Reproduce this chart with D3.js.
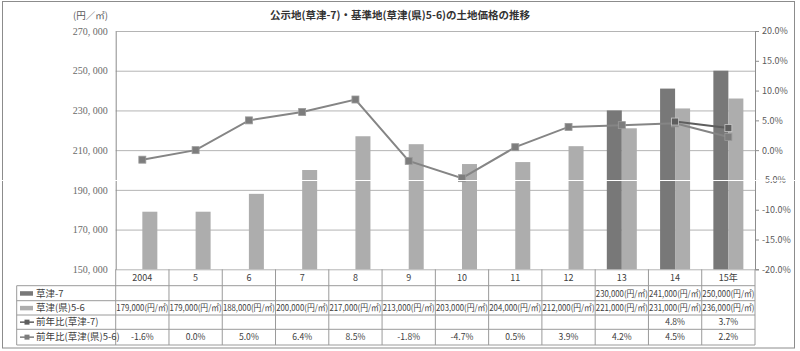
<!DOCTYPE html>
<html><head><meta charset="utf-8">
<script src="https://cdn.jsdelivr.net/npm/d3@7"></script>
<style>body{margin:0;background:#fff}svg{display:block}</style>
</head><body><svg id="c" width="800" height="351"></svg>
<script>
const categories = ["2004","5","6","7","8","9","10","11","12","13","14","15年"];
const kusatsu7 = [null,null,null,null,null,null,null,null,null,230000,241000,250000];
const kusatsuKen = [179000,179000,188000,200000,217000,213000,203000,204000,212000,221000,231000,236000];
const yoyKusatsu7 = [null,null,null,null,null,null,null,null,null,null,4.8,3.7];
const yoyKen = [-1.6,0.0,5.0,6.4,8.5,-1.8,-4.7,0.5,3.9,4.2,4.5,2.2];
const leftTicks = [150000,170000,190000,210000,230000,250000,270000];
const rightTicks = [-20,-15,-10,-5,0,5,10,15,20];
const seriesNames = ["草津-7","草津(県)5-6","前年比(草津-7)","前年比(草津(県)5-6)"];
const titleText = "公示地(草津-7)・基準地(草津(県)5-6)の土地価格の推移";
const unitText = "(円／㎡)";

const svg = d3.select("#c");
const L = 115.7, R = 755, T = 31, B = 269.3;
const rowY = [269.3, 285.7, 300.7, 315, 329.3, 345];
const tableLeft = 16.7;
const cDark = "#787878", cLight = "#adadad";
const gridC = "#b4b4b4", lineC = "#9a9a9a";
const jp = "'Noto Sans CJK JP','Noto Sans',sans-serif";

// outer border
svg.append("rect").attr("x",2.5).attr("y",1.5).attr("width",792).attr("height",346.5)
  .attr("fill","#fff").attr("stroke","#8c8c8c").attr("stroke-width",1);

const x = d3.scaleBand().domain(categories).range([L,R]).padding(0);
const yL = d3.scaleLinear().domain([150000,270000]).range([B,T]);
const yR = d3.scaleLinear().domain([-20,20]).range([B,T]);
const bw = 15;

// gridlines
svg.append("g").attr("transform",`translate(${L},0)`)
  .call(d3.axisLeft(yL).tickValues(leftTicks).tickSize(-(R-L)).tickFormat(""))
  .call(g=>{g.select(".domain").remove();g.selectAll("line").attr("stroke",gridC);});

// left axis labels
svg.append("g").attr("transform",`translate(${L},0)`)
  .call(d3.axisLeft(yL).tickValues(leftTicks).tickSize(0).tickPadding(8)
    .tickFormat(d=>d3.format(",")(d).replace(",",", ")))
  .call(g=>{g.select(".domain").attr("stroke","#8c8c8c");
    g.selectAll("text").attr("font-family","'Liberation Serif','DejaVu Serif',serif")
     .attr("font-size",10).attr("fill","#6a6a6a");});

// right axis
svg.append("g").attr("transform",`translate(${R},0)`)
  .call(d3.axisRight(yR).tickValues(rightTicks).tickSize(4).tickPadding(3)
    .tickFormat(d=>d.toFixed(1)+"%"))
  .call(g=>{g.select(".domain").attr("stroke","#8c8c8c");
    g.selectAll("line").attr("stroke","#8c8c8c");
    g.selectAll("text").attr("font-family",jp).attr("font-size",9).attr("fill","#595959");});

// bars
svg.append("g").selectAll("rect").data(categories.map((c,i)=>({c,v:kusatsu7[i]})).filter(d=>d.v!=null))
  .join("rect").attr("x",d=>x(d.c)+x.bandwidth()/2-bw).attr("width",bw)
  .attr("y",d=>yL(d.v)).attr("height",d=>B-yL(d.v)).attr("fill",cDark);
svg.append("g").selectAll("rect").data(categories.map((c,i)=>({c,v:kusatsuKen[i]})))
  .join("rect").attr("x",d=>x(d.c)+x.bandwidth()/2).attr("width",bw)
  .attr("y",d=>yL(d.v)).attr("height",d=>B-yL(d.v)).attr("fill",cLight);

// lines
function drawLine(vals,color,mcolor,stroke){
  const pts = categories.map((c,i)=>({c,v:vals[i]})).filter(d=>d.v!=null);
  const line = d3.line().x(d=>x(d.c)+x.bandwidth()/2).y(d=>yR(d.v));
  svg.append("path").datum(pts).attr("d",line).attr("fill","none").attr("stroke",color).attr("stroke-width",2);
  svg.append("g").selectAll("rect").data(pts).join("rect")
    .attr("x",d=>x(d.c)+x.bandwidth()/2-3.5).attr("y",d=>yR(d.v)-3.5)
    .attr("width",7).attr("height",7).attr("fill",mcolor).attr("stroke",stroke).attr("stroke-width",0.8);
}
drawLine(yoyKen,"#858585","#7d7d7d","#9a9a9a");
drawLine(yoyKusatsu7,"#5e5e5e","#5e5e5e","#c8c8c8");

// table
const tg = svg.append("g");
// vertical lines
const bounds = categories.map(c=>x(c)).concat([R]);
tg.selectAll("line.v").data(bounds).join("line")
  .attr("x1",d=>d).attr("x2",d=>d).attr("y1",rowY[0]).attr("y2",rowY[5])
  .attr("stroke",lineC);
tg.append("line").attr("x1",tableLeft).attr("x2",tableLeft).attr("y1",rowY[1]).attr("y2",rowY[5]).attr("stroke",lineC);
[1,2,3,4,5].forEach(k=>{
  tg.append("line").attr("x1",tableLeft).attr("x2",R).attr("y1",rowY[k]).attr("y2",rowY[k]).attr("stroke",lineC);
});
// category labels
tg.selectAll("text.cat").data(categories).join("text")
  .attr("x",d=>x(d)+x.bandwidth()/2).attr("y",(rowY[0]+rowY[1])/2+3.5)
  .attr("text-anchor","middle").attr("font-family",jp).attr("font-size",9).attr("fill","#404040").text(d=>d);
// rows
const rows = [
  kusatsu7.map(v=>v==null?"":d3.format(",")(v)+"(円/㎡)"),
  kusatsuKen.map(v=>v==null?"":d3.format(",")(v)+"(円/㎡)"),
  yoyKusatsu7.map(v=>v==null?"":v.toFixed(1)+"%"),
  yoyKen.map(v=>v==null?"":v.toFixed(1)+"%")
];
rows.forEach((r,k)=>{
  const cy = (rowY[k+1]+rowY[k+2])/2+3.3;
  tg.append("g").selectAll("text").data(categories.map((c,i)=>({c,t:r[i]})).filter(d=>d.t!==""))
    .join("text").attr("x",d=>x(d.c)+x.bandwidth()/2).attr("y",cy)
    .attr("text-anchor","middle").attr("font-family",jp).attr("font-size",k<2?8.6:8.6).attr("fill","#404040")
    .attr("textLength",k<2?52:null).attr("lengthAdjust","spacingAndGlyphs")
    .text(d=>d.t);
  // legend keys
  const ky = (rowY[k+1]+rowY[k+2])/2;
  if(k<2){
    tg.append("rect").attr("x",20).attr("y",ky-2).attr("width",13).attr("height",4.5).attr("fill",k==0?cDark:cLight);
  } else {
    const col = k==2?"#5e5e5e":"#7d7d7d";
    tg.append("line").attr("x1",20).attr("x2",34).attr("y1",ky).attr("y2",ky).attr("stroke",col).attr("stroke-width",1.5);
    tg.append("rect").attr("x",24.5).attr("y",ky-2.5).attr("width",5).attr("height",5).attr("fill",col);
  }
  tg.append("text").attr("x",36).attr("y",ky+3.3).attr("font-family",jp).attr("font-size",9.5)
    .attr("fill","#404040").text(seriesNames[k]);
});

// title and unit
svg.append("text").attr("x",400).attr("y",19).attr("text-anchor","middle")
  .attr("font-family",jp).attr("font-weight","bold").attr("font-size",10.5).attr("fill","#333").text(titleText);
svg.append("text").attr("x",108).attr("y",19).attr("text-anchor","end")
  .attr("font-family",jp).attr("font-size",9.5).attr("fill","#595959").text(unitText);

// white horizontal streak at the -5% level
svg.append("line").attr("x1",0).attr("x2",800).attr("y1",Math.round(yR(-5))+0.5).attr("y2",Math.round(yR(-5))+0.5)
  .attr("stroke","#fff").attr("stroke-width",1.2);
</script></body></html>
